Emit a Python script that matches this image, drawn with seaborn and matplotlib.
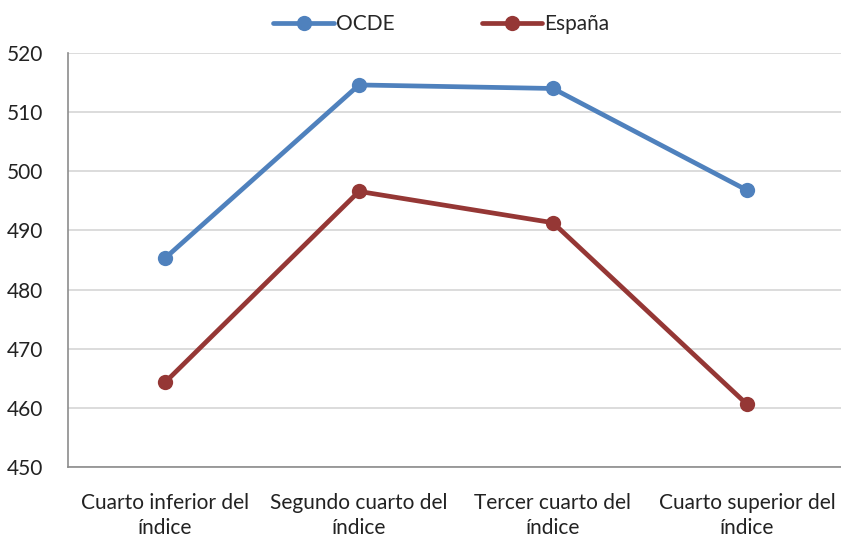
import matplotlib
matplotlib.use("Agg")
import matplotlib.pyplot as plt
import seaborn as sns
import pandas as pd

categories = ["Cuarto inferior del\níndice", "Segundo cuarto del\níndice",
              "Tercer cuarto del\níndice", "Cuarto superior del\níndice"]
ocde = [485.3, 514.6, 514.0, 496.8]
espana = [464.3, 496.6, 491.3, 460.6]
series_names = ["OCDE", "España"]
colors = ["#4F81BD", "#953735"]
yticks = [450, 460, 470, 480, 490, 500, 510, 520]

sns.set_theme(style="white")
plt.rcParams["font.family"] = ["Lato", "DejaVu Sans"]

df = pd.DataFrame({
    "pos": list(range(len(categories))) * 2,
    "valor": ocde + espana,
    "serie": [series_names[0]] * len(ocde) + [series_names[1]] * len(espana),
})

fig = plt.figure(figsize=(8.41, 5.42), dpi=100)
ax = fig.add_axes([68 / 841, 75 / 542, 773 / 841, 414 / 542])

sns.lineplot(data=df, x="pos", y="valor", hue="serie", hue_order=series_names,
             palette=colors, marker="o", markersize=11, markeredgewidth=0,
             linewidth=3.4, ax=ax, legend=False, zorder=3)

ax.set_xlim(-0.5, -0.5 + 773 / 194)
ax.set_ylim(450, 520)
ax.set_yticks(yticks)
ax.set_yticklabels([str(t) for t in yticks], fontsize=15, color="#222222")
ax.set_xticks(range(len(categories)))
ax.set_xticklabels(categories, fontsize=15, color="#222222", linespacing=1.3)
ax.tick_params(axis="both", length=0)
ax.tick_params(axis="y", pad=18)
ax.tick_params(axis="x", pad=19)
ax.set_xlabel("")
ax.set_ylabel("")

ax.grid(axis="y", color="#D9D9D9", linewidth=1.3)
ax.set_axisbelow(True)
for side in ["top", "right"]:
    ax.spines[side].set_visible(False)
for side in ["left", "bottom"]:
    ax.spines[side].set_color("#8C8C8C")
    ax.spines[side].set_linewidth(1.2)

handles = [plt.Line2D([], [], color=c, linewidth=3.4, marker="o", markersize=11,
                      markeredgewidth=0) for c in colors]
fig.legend(handles, series_names, loc="center", bbox_to_anchor=(0.525, 0.955),
           ncol=2, frameon=False, fontsize=15, handlelength=2.9,
           handletextpad=0.1, columnspacing=4.2)

fig.savefig("out.png", dpi=100, facecolor="white")
